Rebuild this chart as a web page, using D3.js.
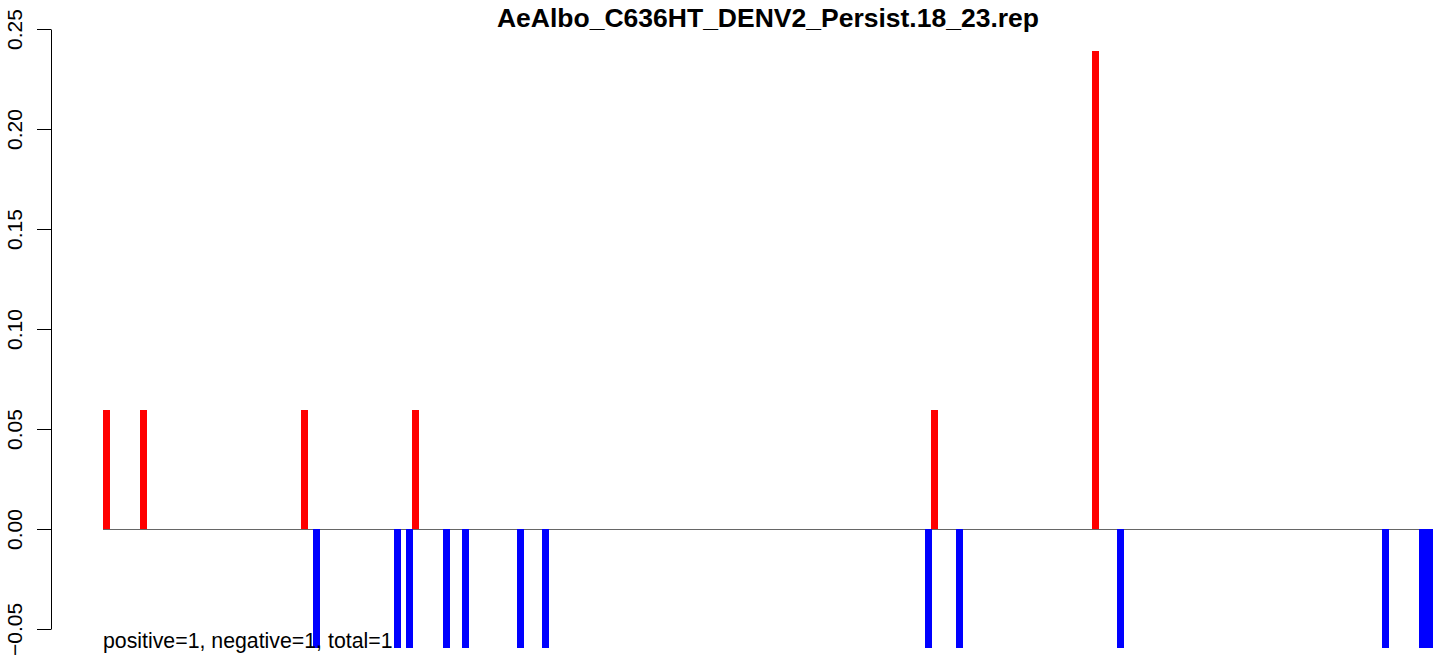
<!DOCTYPE html>
<html>
<head>
<meta charset="utf-8">
<script src="https://cdn.jsdelivr.net/npm/d3@7"></script>
<style>
  body { margin: 0; background: #fff; }
  text { font-family: "Liberation Sans", Arial, Helvetica, sans-serif; }
</style>
</head>
<body>
<script>
// positive (red) and negative (blue) bars: position along the sequence, height
var posX = [0, 37, 198, 309, 828, 989];
var posY = [0.0595, 0.0595, 0.0595, 0.0595, 0.0595, 0.239];
var negX = [210, 291, 303, 340, 359, 414, 439, 822, 853, 1014, 1279, 1316, 1323];
var negY = [-0.0595, -0.0595, -0.0595, -0.0595, -0.0595, -0.0595, -0.0595,
            -0.0595, -0.0595, -0.0595, -0.0595, -0.0595, -0.0595];
var yTicks = [-0.05, 0, 0.05, 0.10, 0.15, 0.20, 0.25];
var title = "AeAlbo_C636HT_DENV2_Persist.18_23.rep";
var note = "positive=1, negative=1, total=1";

function init() {
    var w = 1449;
    var h = 660;
    var barW = 7;

    var svg = d3.select("body")
                .append("svg")
                .attr("width", w)
                .attr("height", h);

    var xScale = d3.scaleLinear()
                   .domain([0, 1323])
                   .range([106.5, 1429.5]);

    var yScale = d3.scaleLinear()
                   .domain([-0.05, 0.25])
                   .range([629, 29]);

    var pos = posX.map(function (d, i) { return [d, posY[i]]; });
    var neg = negX.map(function (d, i) { return [d, negY[i]]; });

    // zero line across the data range (half pixel so it stays crisp)
    svg.append("line")
       .attr("x1", xScale(0) - barW / 2)
       .attr("x2", xScale(1323) + barW / 2)
       .attr("y1", yScale(0) + 0.5)
       .attr("y2", yScale(0) + 0.5)
       .attr("stroke", "#666")
       .attr("stroke-width", 1);

    svg.selectAll("rect.neg")
       .data(neg)
       .enter()
       .append("rect")
       .attr("class", "neg")
       .attr("x", function (d) { return xScale(d[0]) - barW / 2; })
       .attr("y", yScale(0))
       .attr("width", barW)
       .attr("height", function (d) { return yScale(d[1]) - yScale(0); })
       .attr("fill", "#0000ff");

    svg.selectAll("rect.pos")
       .data(pos)
       .enter()
       .append("rect")
       .attr("class", "pos")
       .attr("x", function (d) { return xScale(d[0]) - barW / 2; })
       .attr("y", function (d) { return yScale(d[1]); })
       .attr("width", barW)
       .attr("height", function (d) { return yScale(0) - yScale(d[1]); })
       .attr("fill", "#ff0000");

    // y axis, labels turned like R's default
    var yAxis = d3.axisLeft(yScale)
                  .tickValues(yTicks)
                  .tickSize(14)
                  .tickSizeOuter(0)
                  .tickFormat(d3.format(".2f"));

    var gy = svg.append("g")
                .attr("class", "y axis")
                .attr("transform", "translate(51,0)")
                .call(yAxis);

    gy.select(".domain").attr("stroke", "#000");
    gy.selectAll(".tick line").attr("stroke", "#000");
    gy.selectAll(".tick text")
      .attr("transform", "rotate(-90)")
      .attr("x", 0)
      .attr("y", -29)
      .attr("dy", null)
      .attr("text-anchor", "middle")
      .attr("font-size", "21px")
      .attr("font-family", "Liberation Sans, Arial, sans-serif")
      .attr("fill", "#000");

    svg.append("text")
       .attr("x", 768)
       .attr("y", 27)
       .attr("text-anchor", "middle")
       .attr("font-size", "26.5px")
       .attr("font-weight", "bold")
       .text(title);

    svg.append("text")
       .attr("x", 103)
       .attr("y", 648)
       .attr("font-size", "21.3px")
       .text(note);
}

window.onload = init;
</script>
</body>
</html>
